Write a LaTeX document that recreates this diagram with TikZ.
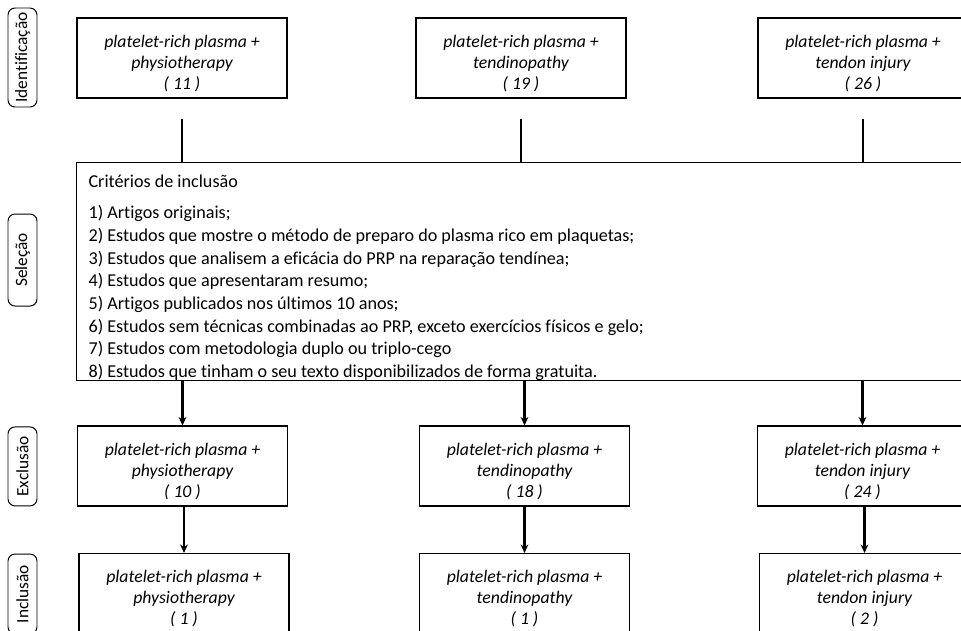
\documentclass[tikz,border=0pt]{standalone}
\usepackage{fontspec}
\setmainfont[Ligatures=NoCommon]{Carlito}
\usetikzlibrary{arrows.meta}
\newcommand{\lift}{\rule{0pt}{16.4pt}}

\begin{document}
\begin{tikzpicture}
        % Define styles
        \tikzset{
            phase/.style={rectangle, rounded corners=5pt, draw, line width=0.7pt, rotate=90, minimum width=#1, minimum height=0.725cm, inner sep=0pt, font=\fontsize{12.3}{14}\selectfont},
            result/.style={rectangle, draw, line width=0.8pt, minimum width=5.25cm, minimum height=2cm, align=center, font=\fontsize{12.6}{14.9}\selectfont\itshape},
            arrow/.style={-{Stealth[length=6pt,width=5.5pt]}, line width=1.5pt},
            link/.style={line width=1.5pt}
        }
        \useasboundingbox (0,0) rectangle (24.025,-15.75);

        % Nodes
        \node[phase=2.475cm] (phase_node_1) at (0.5625,-1.4375) {Identificação};
        \node[phase=2.3cm] (phase_node_2) at (0.5625,-6.5) {Seleção};
        \node[phase=1.975cm] (phase_node_3) at (0.5625,-11.66) {Exclusão};
        \node[phase=2cm] (phase_node_4) at (0.5625,-14.85) {Inclusão};

        \node[result] (search_node_1) at (4.55,-1.45) {\lift platelet-rich plasma +\\ physiotherapy\\ ( 11 )};
        \node[result] (search_node_2) at (13.025,-1.45) {\lift platelet-rich plasma +\\ tendinopathy\\ ( 19 )};
        \node[result] (search_node_3) at (21.575,-1.45) {\lift platelet-rich plasma +\\ tendon injury\\ ( 26 )};

        \node[draw, line width=0.8pt, anchor=north west, minimum width=23cm, inner xsep=0.3cm, inner ysep=0pt, font=\fontsize{12.9}{16.1}\selectfont] (criteria_node) at (1.9,-4.05) {\parbox[c][5.45cm][t]{22.4cm}{\raggedright\vspace*{0.3cm}Critérios de inclusão\\[0.23cm]
            1) Artigos originais;\\
            2) Estudos que mostre o método de preparo do plasma rico em plaquetas;\\
            3) Estudos que analisem a eficácia do PRP na reparação tendínea;\\
            4) Estudos que apresentaram resumo;\\
            5) Artigos publicados nos últimos 10 anos;\\
            6) Estudos sem técnicas combinadas ao PRP, exceto exercícios físicos e gelo;\\
            7) Estudos com metodologia duplo ou triplo-cego\\
            8) Estudos que tinham o seu texto disponibilizados de forma gratuita.}};

        \node[result] (exclusion_node_1) at (4.5625,-11.65) {\lift platelet-rich plasma +\\ physiotherapy\\ ( 10 )};
        \node[result] (exclusion_node_2) at (13.1125,-11.65) {\lift platelet-rich plasma +\\ tendinopathy\\ ( 18 )};
        \node[result] (exclusion_node_3) at (21.5625,-11.65) {\lift platelet-rich plasma +\\ tendon injury\\ ( 24 )};

        \node[result] (inclusion_node_1) at (4.6,-14.8375) {\lift platelet-rich plasma +\\ physiotherapy\\ ( 1 )};
        \node[result] (inclusion_node_2) at (13.1125,-14.8375) {\lift platelet-rich plasma +\\ tendinopathy\\ ( 1 )};
        \node[result] (inclusion_node_3) at (21.6125,-14.8375) {\lift platelet-rich plasma +\\ tendon injury\\ ( 2 )};

        % Arrows
        \draw[link] ([yshift=-0.5cm]search_node_1.south) -- (search_node_1.south |- criteria_node.north);
        \draw[link] ([yshift=-0.5cm]search_node_2.south) -- (search_node_2.south |- criteria_node.north);
        \draw[link] ([yshift=-0.5cm]search_node_3.south) -- (search_node_3.south |- criteria_node.north);
        \draw[arrow] (exclusion_node_1.north |- criteria_node.south) -- (exclusion_node_1.north);
        \draw[arrow] (exclusion_node_2.north |- criteria_node.south) -- (exclusion_node_2.north);
        \draw[arrow] (exclusion_node_3.north |- criteria_node.south) -- (exclusion_node_3.north);
        \draw[arrow] (inclusion_node_1.north |- exclusion_node_1.south) -- (inclusion_node_1.north);
        \draw[arrow] (inclusion_node_2.north |- exclusion_node_2.south) -- (inclusion_node_2.north);
        \draw[arrow] (inclusion_node_3.north |- exclusion_node_3.south) -- (inclusion_node_3.north);
    \end{tikzpicture}
\end{document}
